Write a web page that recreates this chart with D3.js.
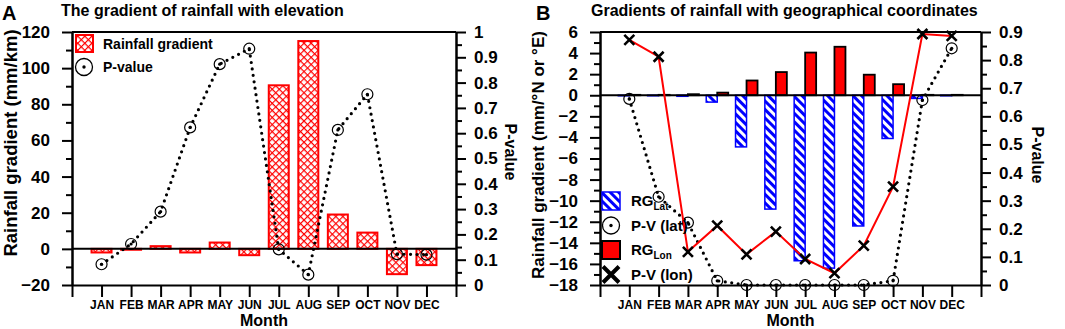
<!DOCTYPE html>
<html lang="en">
<head>
<meta charset="utf-8">
<script src="https://cdn.jsdelivr.net/npm/d3@7"></script>
<title>Rainfall gradients</title>
<style>
body { margin: 0; background: #fff; }
svg { display: block; font-family: "Liberation Sans", Arial, sans-serif; font-weight: bold; }
.axis path, .axis line { stroke: #000; stroke-width: 2; }
.axis text { fill: #000; font-weight: bold; }
</style>
</head>
<body>
<div id="chart"></div>
<script>
// ---- data ----
const months = ["JAN","FEB","MAR","APR","MAY","JUN","JUL","AUG","SEP","OCT","NOV","DEC"];

// panel A: gradient with elevation
const rgElev = [-2, -0.5, 1.5, -2, 3.5, -3.5, 90.5, 115, 19, 9, -14, -9];
const pElev  = [0.082, 0.162, 0.29, 0.623, 0.873, 0.934, 0.141, 0.041, 0.613, 0.754, 0.122, 0.12];

// panel B: gradients with latitude / longitude
const rgLat = [-0.05, -0.05, -0.1, -0.65, -4.9, -10.8, -15.7, -16.4, -12.4, -4.1, -0.3, -0.05];
const rgLon = [0.04, 0.04, 0.1, 0.25, 1.4, 2.2, 4.05, 4.6, 1.95, 1.05, 0.04, 0.04];
const pLat  = [0.662, 0.314, 0.222, 0.015, 0, 0, 0, 0, 0, 0.015, 0.658, 0.842];
const pLon  = [0.872, 0.812, 0.118, 0.211, 0.109, 0.19, 0.0925, 0.042, 0.14, 0.35, 0.893, 0.886];

// axis ticks
const ticksA  = [-20, 0, 20, 40, 60, 80, 100, 120];
const minorA  = [-10, 10, 30, 50, 70, 90, 110];
const ticksAR = [0, 0.1, 0.2, 0.3, 0.4, 0.5, 0.6, 0.7, 0.8, 0.9, 1];
const ticksB  = [-18, -16, -14, -12, -10, -8, -6, -4, -2, 0, 2, 4, 6];
const minorB  = [-17, -15, -13, -11, -9, -7, -5, -3, -1, 1, 3, 5];
const ticksBR = [0, 0.1, 0.2, 0.3, 0.4, 0.5, 0.6, 0.7, 0.8, 0.9];
const minorR  = [0.05, 0.15, 0.25, 0.35, 0.45, 0.55, 0.65, 0.75, 0.85, 0.95];

const svg = d3.select("#chart").append("svg").attr("width", 1065).attr("height", 329);
const plotTop = 32, plotBottom = 285;

const defs = svg.append("defs");
const cross = defs.append("pattern").attr("id","cross").attr("patternUnits","userSpaceOnUse")
  .attr("width",5).attr("height",5).attr("patternTransform","rotate(45)");
cross.append("rect").attr("width",5).attr("height",5).attr("fill","#fff");
cross.append("path").attr("d","M0,0.5H5M0.5,0V5").attr("stroke","#f00").attr("stroke-width",1.3);
const hatch = defs.append("pattern").attr("id","hatch").attr("patternUnits","userSpaceOnUse")
  .attr("width",6).attr("height",6).attr("patternTransform","rotate(-45)");
hatch.append("rect").attr("width",6).attr("height",6).attr("fill","#fff");
hatch.append("rect").attr("width",3).attr("height",6).attr("fill","#00f");

function drawFrame(g, x0, x1, yL, yR, ticksL, minorL, ticksR, fmtR){
  const x = d3.scaleLinear().domain([0, 13]).range([x0, x1]);
  g.append("g").attr("class","axis").attr("transform","translate(" + x0 + ",0)")
    .call(d3.axisLeft(yL).tickValues(minorL).tickSize(6).tickSizeOuter(0).tickFormat(""));
  g.append("g").attr("class","axis").attr("transform","translate(" + x0 + ",0)")
    .style("font-size","17px")
    .call(d3.axisLeft(yL).tickValues(ticksL).tickSize(10).tickSizeOuter(0).tickPadding(12));
  g.append("g").attr("class","axis").attr("transform","translate(" + x1 + ",0)")
    .call(d3.axisRight(yR).tickValues(minorR.filter(function(v){return v < yR.domain()[1];}))
      .tickSize(6).tickSizeOuter(0).tickFormat(""));
  g.append("g").attr("class","axis").attr("transform","translate(" + x1 + ",0)")
    .style("font-size","17px")
    .call(d3.axisRight(yR).tickValues(ticksR).tickSize(10).tickSizeOuter(0).tickPadding(8).tickFormat(fmtR));
  g.append("g").attr("class","axis").attr("transform","translate(0," + plotBottom + ")")
    .style("font-size","12px")
    .call(d3.axisBottom(x).tickValues(d3.range(0, 14)).tickSize(12).tickSizeOuter(0).tickPadding(3)
      .tickFormat(function(i){return months[i-1] || "";}));
  g.append("line").attr("x1",x0).attr("x2",x1).attr("y1",plotTop).attr("y2",plotTop)
    .attr("stroke","#000").attr("stroke-width",2);
  g.append("text").attr("x",(x0+x1)/2).attr("y",326).attr("text-anchor","middle")
    .style("font-size","16px").text("Month");
  return x;
}

function zeroLine(g, x0, x1, y){
  g.append("line").attr("x1",x0).attr("x2",x1).attr("y1",y(0)).attr("y2",y(0))
    .attr("stroke","#000").attr("stroke-width",2);
}

function dotted(g, data, x, y){
  const line = d3.line().x(function(d,i){return x(i+1);}).y(function(d){return y(d);});
  g.append("path").attr("d", line(data)).attr("fill","none").attr("stroke","#000")
    .attr("stroke-width",3.2).attr("stroke-linecap","round").attr("stroke-dasharray","0 6.5");
}

function circles(g, data, x, y){
  const c = g.append("g").selectAll("g").data(data).enter().append("g")
    .attr("transform", function(d,i){return "translate(" + x(i+1) + "," + y(d) + ")";});
  c.append("circle").attr("r",5.5).attr("fill","none").attr("stroke","#000").attr("stroke-width",1.2);
  c.append("circle").attr("r",1.6).attr("fill","#000");
}

function fmtP(d){ return String(d); }

// ---------------- Panel A ----------------
const gA = svg.append("g");
const xA0 = 72, xA1 = 456;
const yA = d3.scaleLinear().domain([-20, 120]).range([plotBottom, plotTop]);
const yAR = d3.scaleLinear().domain([0, 1]).range([plotBottom, plotTop]);
const xA = drawFrame(gA, xA0, xA1, yA, yAR, ticksA, minorA, ticksAR, fmtP);
const bwA = 20;

gA.selectAll(".barA").data(rgElev).enter().append("rect")
  .attr("class","barA")
  .attr("x", function(d,i){return xA(i+1) - bwA/2;})
  .attr("y", function(d){return yA(Math.max(0,d));})
  .attr("width", bwA)
  .attr("height", function(d){return Math.abs(yA(d) - yA(0));})
  .attr("fill","url(#cross)").attr("stroke","#f00").attr("stroke-width",2);
zeroLine(gA, xA0, xA1, yA);
dotted(gA, pElev, xA, yAR);
circles(gA, pElev, xA, yAR);

// legend A
gA.append("rect").attr("x",76).attr("y",35).attr("width",17).attr("height",17)
  .attr("fill","url(#cross)").attr("stroke","#f00").attr("stroke-width",2);
gA.append("text").attr("x",103).attr("y",49).style("font-size","14px").text("Rainfall gradient");
gA.append("circle").attr("cx",84).attr("cy",67).attr("r",8.5).attr("fill","none").attr("stroke","#000").attr("stroke-width",1.3);
gA.append("circle").attr("cx",84).attr("cy",67).attr("r",1.7).attr("fill","#000");
gA.append("text").attr("x",103).attr("y",72).style("font-size","14px").text("P-value");

gA.append("text").attr("x",2).attr("y",20).style("font-size","20px").text("A");
gA.append("text").attr("x",61).attr("y",16).style("font-size","16px").text("The gradient of rainfall with elevation");
gA.append("text").attr("transform","translate(17,143) rotate(-90)").attr("text-anchor","middle")
  .style("font-size","18.5px").text("Rainfall gradient (mm/km)");
gA.append("text").attr("transform","translate(505,152) rotate(90)").attr("text-anchor","middle")
  .style("font-size","16px").text("P-value");

// ---------------- Panel B ----------------
const gB = svg.append("g");
const xB0 = 600, xB1 = 981;
const yB = d3.scaleLinear().domain([-18, 6]).range([plotBottom, plotTop]);
const yBR = d3.scaleLinear().domain([0, 0.9]).range([plotBottom, plotTop]);
const xB = drawFrame(gB, xB0, xB1, yB, yBR, ticksB, minorB, ticksBR, fmtP);
const bwB = 11;

gB.selectAll(".barLat").data(rgLat).enter().append("rect")
  .attr("class","barLat")
  .attr("x", function(d,i){return xB(i+1) - bwB;})
  .attr("y", yB(0))
  .attr("width", bwB)
  .attr("height", function(d){return yB(d) - yB(0);})
  .attr("fill","url(#hatch)").attr("stroke","#00f").attr("stroke-width",1.5);
gB.selectAll(".barLon").data(rgLon).enter().append("rect")
  .attr("class","barLon")
  .attr("x", function(d,i){return xB(i+1);})
  .attr("y", function(d){return yB(d);})
  .attr("width", bwB)
  .attr("height", function(d){return yB(0) - yB(d);})
  .attr("fill","#f00").attr("stroke","#000").attr("stroke-width",1.8);
zeroLine(gB, xB0, xB1, yB);

dotted(gB, pLat, xB, yBR);
circles(gB, pLat, xB, yBR);

const lonLine = d3.line().x(function(d,i){return xB(i+1);}).y(function(d){return yBR(d);});
gB.append("path").attr("d", lonLine(pLon)).attr("fill","none").attr("stroke","#f00").attr("stroke-width",2);
gB.append("g").selectAll("path").data(pLon).enter().append("path")
  .attr("transform", function(d,i){return "translate(" + xB(i+1) + "," + yBR(d) + ")";})
  .attr("d","M-5,-5L5,5M5,-5L-5,5").attr("stroke","#000").attr("stroke-width",2.6);

// legend B
const legY = [201, 225.5, 250, 274.5];
const lx = 611, tx = 631;
gB.append("rect").attr("x",lx-9).attr("y",legY[0]-9).attr("width",18).attr("height",18)
  .attr("fill","url(#hatch)").attr("stroke","#00f").attr("stroke-width",1.5);
gB.append("circle").attr("cx",lx).attr("cy",legY[1]).attr("r",8.5).attr("fill","none").attr("stroke","#000").attr("stroke-width",1.3);
gB.append("circle").attr("cx",lx).attr("cy",legY[1]).attr("r",1.7).attr("fill","#000");
gB.append("rect").attr("x",lx-9).attr("y",legY[2]-9).attr("width",18).attr("height",18)
  .attr("fill","#f00").attr("stroke","#000").attr("stroke-width",2);
gB.append("path").attr("d","M" + (lx-8) + "," + (legY[3]-8) + "l16,16m0,-16l-16,16")
  .attr("stroke","#000").attr("stroke-width",4);

const t1 = gB.append("text").attr("x",tx).attr("y",legY[0]+5).style("font-size","15px").text("RG");
t1.append("tspan").attr("dy",4).style("font-size","10px").text("Lat");
gB.append("text").attr("x",tx).attr("y",legY[1]+5).style("font-size","15px").text("P-V (lat)");
const t2 = gB.append("text").attr("x",tx).attr("y",legY[2]+5).style("font-size","15px").text("RG");
t2.append("tspan").attr("dy",4).style("font-size","10px").text("Lon");
gB.append("text").attr("x",tx).attr("y",legY[3]+5).style("font-size","15px").text("P-V (lon)");

gB.append("text").attr("x",536).attr("y",20).style("font-size","20px").text("B");
gB.append("text").attr("x",591).attr("y",16).style("font-size","16px").text("Gradients of rainfall with geographical coordinates");
gB.append("text").attr("transform","translate(544,155) rotate(-90)").attr("text-anchor","middle")
  .style("font-size","17px").text("Rainfall gradient (mm/°N or °E)");
gB.append("text").attr("transform","translate(1032,155) rotate(90)").attr("text-anchor","middle")
  .style("font-size","16px").text("P-value");
</script>
</body>
</html>
